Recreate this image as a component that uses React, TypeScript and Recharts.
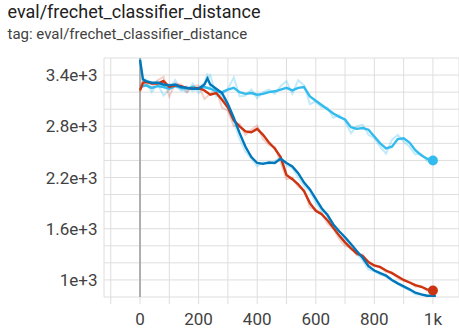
import React from 'react';
import { LineChart, Line, XAxis, YAxis, CartesianGrid, ReferenceLine } from 'recharts';

// ---- data ----
const lightSteps = [0,20,40,60,80,100,120,140,160,180,200,220,240,260,280,300,320,340,360,380,400,420,440,460,480,500,520,540,560,580,600,620,640,660,680,700,720,740,760,780,800,820,840,860,880,900,920,940,960,980,1000];
const lightSmooth = [3260,3280,3250,3270,3260,3240,3270,3250,3240,3260,3240,3260,3240,3210,3200,3230,3250,3200,3180,3190,3170,3180,3200,3210,3230,3250,3220,3250,3260,3150,3100,3050,3000,2950,2910,2880,2790,2770,2780,2760,2680,2600,2540,2560,2650,2660,2610,2520,2460,2420,2400];
const lightRaw = [3230,3320,3200,3300,3160,3230,3340,3230,3200,3300,3190,3300,3400,3150,3180,3240,3370,3150,3160,3230,3130,3200,3230,3180,3270,3330,3180,3340,3280,3060,3090,3020,3020,2900,2930,2860,2720,2800,2820,2700,2660,2560,2480,2640,2700,2620,2560,2470,2480,2390,2400];

const redSteps = [0,10,20,40,60,80,100,120,140,160,180,200,220,240,260,280,300,320,340,360,380,400,420,440,460,480,500,520,540,560,580,600,620,640,660,680,700,720,740,760,780,800,820,840,860,880,900,920,940,960,980,1000];
const redSmooth = [3220,3310,3320,3300,3300,3330,3260,3280,3270,3250,3240,3250,3220,3170,3190,3110,3020,2870,2800,2740,2730,2770,2700,2610,2540,2440,2230,2180,2120,2040,1900,1810,1770,1700,1610,1520,1440,1370,1310,1280,1210,1170,1150,1110,1080,1040,1000,970,940,920,890,877];
const redRaw = [3200,3360,3300,3250,3340,3380,3150,3300,3290,3200,3270,3280,3120,3180,3230,3020,2980,2800,2830,2700,2760,2810,2650,2580,2560,2380,2180,2200,2090,2060,1850,1830,1780,1660,1600,1480,1400,1380,1290,1300,1180,1160,1160,1090,1090,1020,990,980,920,930,870,880];

const blueSteps = [0,10,20,40,60,80,100,120,140,160,180,200,220,230,240,260,280,300,320,340,360,380,400,420,440,460,480,500,520,540,560,580,600,620,640,660,680,700,720,740,760,780,800,820,840,860,880,900,920,940,960,980,1000,1010];
const blueSmooth = [3580,3350,3330,3310,3310,3290,3280,3290,3260,3250,3240,3240,3290,3360,3290,3240,3190,3060,2900,2720,2560,2440,2370,2360,2375,2370,2420,2370,2330,2250,2140,2060,1950,1840,1760,1650,1570,1500,1420,1340,1260,1160,1110,1080,1050,1000,960,925,890,850,830,815,815,815];
const blueRaw = [3600,3300,3350,3290,3330,3260,3300,3270,3220,3270,3210,3260,3310,3420,3250,3220,3150,3000,2850,2650,2500,2420,2330,2380,2360,2390,2440,2340,2310,2200,2100,2040,1900,1800,1770,1600,1520,1480,1380,1300,1230,1120,1100,1060,1040,990,950,910,880,830,830,810,815,815];

const xTicks = [-100,0,100,200,300,400,500,600,700,800,900,1000];
const xLabels: Record<number, string> = { 0: '0', 200: '200', 400: '400', 600: '600', 800: '800', 1000: '1k' };
const yTicks = [800,1000,1200,1400,1600,1800,2000,2200,2400,2600,2800,3000,3200,3400,3600];
const yLabels: Record<number, string> = { 1000: '1e+3', 1600: '1.6e+3', 2200: '2.2e+3', 2800: '2.8e+3', 3400: '3.4e+3' };

const LIGHT = '#33bbee';
const RED = '#cc3311';
const BLUE = '#0077bb';
const GRID = '#dedede';
const FONT = 'Roboto, sans-serif';

const lightData = lightSteps.map((s, i) => ({ step: s, v: lightSmooth[i], raw: lightRaw[i] }));
const redData = redSteps.map((s, i) => ({ step: s, v: redSmooth[i], raw: redRaw[i] }));
const blueData = blueSteps.map((s, i) => ({ step: s, v: blueSmooth[i], raw: blueRaw[i] }));

const XTick = (props: any) => {
  const { x, payload } = props;
  const label = xLabels[payload.value];
  if (label === undefined) return <g />;
  return (
    <text x={x} y={325} textAnchor="middle" fontSize={17} fill="#424242" fontFamily={FONT}>
      {label}
    </text>
  );
};

const YTick = (props: any) => {
  const { y, payload } = props;
  const label = yLabels[payload.value];
  if (label === undefined) return <g />;
  return (
    <text x={97.5} y={y} dy="0.36em" textAnchor="end" fontSize={17} fill="#424242" fontFamily={FONT}>
      {label}
    </text>
  );
};

const lastDot = (len: number, color: string) => (props: any) => {
  const { cx, cy, index } = props;
  if (index !== len - 1) return <g key={`d${index}`} />;
  return <circle key={`d${index}`} cx={cx} cy={cy} r={5} fill={color} />;
};

export default function App() {
  return (
    <div style={{ position: 'absolute', left: 0, top: 0, width: 459, height: 328, background: '#fff', fontFamily: FONT, overflow: 'hidden' }}>
      <div style={{ position: 'absolute', left: 7.5, top: 3, fontSize: 18, lineHeight: '18px', color: '#212121', whiteSpace: 'nowrap' }}>
        eval/frechet_classifier_distance
      </div>
      <div style={{ position: 'absolute', left: 7.5, top: 26.5, fontSize: 15, lineHeight: '15px', color: '#424242', whiteSpace: 'nowrap' }}>
        tag: eval/frechet_classifier_distance
      </div>
      <div style={{ position: 'absolute', left: 0, top: 0 }}>
        <LineChart width={459} height={328} margin={{ top: 58, right: 0, bottom: 0, left: 0 }}>
          <CartesianGrid stroke={GRID} strokeWidth={1} />
          <XAxis
            type="number"
            dataKey="step"
            domain={[-123, 1089]}
            ticks={xTicks}
            allowDataOverflow
            height={31}
            axisLine={false}
            tickLine={{ stroke: GRID }}
            tickSize={7}
            tick={<XTick />}
            interval={0}
          />
          <YAxis
            type="number"
            domain={[800, 3600]}
            ticks={yTicks}
            allowDataOverflow
            width={104}
            axisLine={false}
            tickLine={false}
            tick={<YTick />}
            interval={0}
          />
          <ReferenceLine x={0} stroke="#a8a8a8" strokeWidth={1.8} />
          <Line data={lightData} dataKey="raw" stroke={LIGHT} strokeOpacity={0.3} strokeWidth={2} dot={false} isAnimationActive={false} />
          <Line data={redData} dataKey="raw" stroke={RED} strokeOpacity={0.22} strokeWidth={2} dot={false} isAnimationActive={false} />
          <Line data={blueData} dataKey="raw" stroke={LIGHT} strokeOpacity={0.28} strokeWidth={2} dot={false} isAnimationActive={false} />
          <Line data={lightData} dataKey="v" stroke={LIGHT} strokeWidth={2.4} dot={lastDot(lightData.length, LIGHT)} isAnimationActive={false} />
          <Line data={redData} dataKey="v" stroke={RED} strokeWidth={2.4} dot={lastDot(redData.length, RED)} isAnimationActive={false} />
          <Line data={blueData} dataKey="v" stroke={BLUE} strokeWidth={2.4} dot={false} isAnimationActive={false} />
        </LineChart>
      </div>
    </div>
  );
}
